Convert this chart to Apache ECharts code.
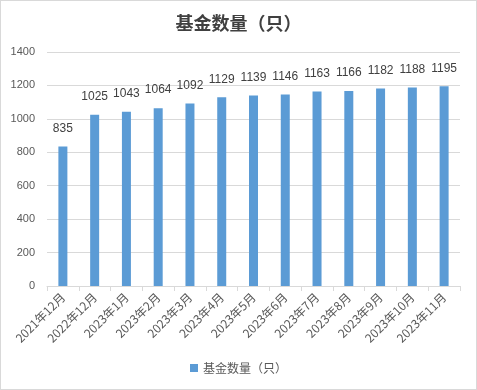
<!DOCTYPE html>
<html><head><meta charset="utf-8">
<script src="https://cdn.jsdelivr.net/npm/echarts@6/dist/echarts.min.js"></script>
<style>html,body{margin:0;padding:0;background:#fff}#c{width:477px;height:390px;box-sizing:border-box;border:1px solid #d9d9d9}</style>
</head><body><div id="c"></div>
<script>
const categories = ['2021年12月','2022年12月','2023年1月','2023年2月','2023年3月','2023年4月','2023年5月','2023年6月','2023年7月','2023年8月','2023年9月','2023年10月','2023年11月'];
const fundCounts = [835,1025,1043,1064,1092,1129,1139,1146,1163,1166,1182,1188,1195];
const seriesName = '基金数量（只）';
const titleText = '基金数量（只）';
const chart = echarts.init(document.getElementById('c'));
chart.setOption({
  animation:false,
  title:{text:titleText,left:'center',top:8,textStyle:{fontFamily:'Noto Sans CJK SC',fontSize:18,fontWeight:'bold',color:'#404040'}},
  legend:{bottom:10,left:'center',itemWidth:8,itemHeight:8,icon:'rect',textStyle:{fontFamily:'Noto Sans CJK SC',fontSize:12,color:'#595959'},data:[seriesName]},
  grid:{left:46,right:16,top:51,bottom:103},
  xAxis:{type:'category',data:categories,
    axisLine:{lineStyle:{color:'#d9d9d9'}},
    axisTick:{show:true,length:5,lineStyle:{color:'#d9d9d9'}},
    axisLabel:{rotate:45,fontSize:12,color:'#595959',fontFamily:'Noto Sans CJK SC',interval:0,margin:9}},
  yAxis:{type:'value',min:0,max:1400,interval:200,
    axisLine:{show:false},axisTick:{show:false},
    splitLine:{lineStyle:{color:'#d9d9d9'}},
    axisLabel:{fontSize:11,color:'#595959',fontFamily:'Liberation Sans',margin:12,formatter:v=>String(v)}},
  series:[{name:seriesName,type:'bar',data:fundCounts,barWidth:9,
    itemStyle:{color:'#5B9BD5'},
    label:{show:true,position:'top',distance:12,fontSize:12,color:'#404040',fontFamily:'Liberation Sans'}}]
});
</script></body></html>
